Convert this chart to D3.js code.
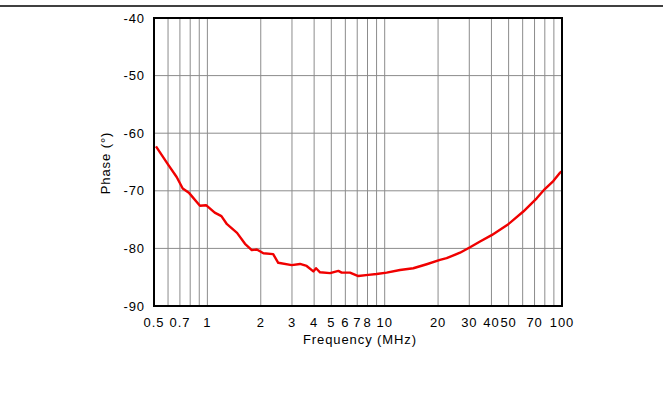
<!DOCTYPE html>
<html>
<head>
<script src='https://d3js.org/d3.v7.min.js'></script>

<style>
  body { margin: 0; background: #fff; }
  svg { display: block; }
  svg text {
    fill: black;
    font: 13px "Liberation Sans", Arial, sans-serif;
    letter-spacing: 0.9px;
  }
</style>
</head>
<body>
<script>
  // frequency in MHz, phase in degrees
  var freq = [0.513, 0.602, 0.671, 0.726, 0.79, 0.908, 0.983, 1.10, 1.2, 1.29, 1.47, 1.63, 1.78, 1.9,
    2.07, 2.35, 2.51, 2.99, 3.33, 3.63, 3.96, 4.1, 4.32, 4.92, 5.48, 5.72, 6.37, 7.1, 8.08, 9.0,
    10.26, 12.2, 14.5, 17.25, 20.5, 22.35, 26.6, 30.3, 34.5, 40.1, 49.8, 60.5, 72, 80, 89.3, 97.4, 100];
  var phase = [-62.3, -65.5, -67.6, -69.6, -70.4, -72.6, -72.5, -73.8, -74.4, -75.8, -77.3, -79.2, -80.3, -80.2,
    -80.85, -81.0, -82.5, -82.9, -82.7, -83.05, -84.0, -83.45, -84.15, -84.3, -83.9, -84.2, -84.2, -84.8, -84.6, -84.45,
    -84.2, -83.75, -83.45, -82.75, -82.0, -81.7, -80.75, -79.8, -78.8, -77.7, -75.8, -73.6, -71.3, -69.7, -68.3, -66.85, -66.6];

  var xTicks = [0.5, 0.7, 1, 2, 3, 4, 5, 6, 7, 8, 10, 20, 30, 40, 50, 70, 100];
  var xGrid = [0.6, 0.7, 0.8, 0.9, 1, 2, 3, 4, 5, 6, 7, 8, 9, 10, 20, 30, 40, 50, 60, 70, 80, 90];
  var yTicks = [-90, -80, -70, -60, -50, -40];

  var width = 663, height = 394;
  var plotL = 154, plotR = 562, plotT = 18, plotB = 306;

  var x = d3.scaleLog().domain([0.5, 100]).range([plotL, plotR]);
  var y = d3.scaleLinear().domain([-90, -40]).range([plotB, plotT]);

  var svg = d3.select("body").append("svg")
    .attr("width", width)
    .attr("height", height);

  // rule across the top of the page
  svg.append("line")
    .attr("x1", 0).attr("x2", width)
    .attr("y1", 6).attr("y2", 6)
    .attr("stroke", "black").attr("stroke-width", 1.5);

  // grid
  svg.selectAll(".vgrid").data(xGrid).enter().append("line")
    .attr("x1", function(d) { return x(d); })
    .attr("x2", function(d) { return x(d); })
    .attr("y1", plotT).attr("y2", plotB)
    .attr("stroke", "#8c8c8c").attr("stroke-width", 1);

  svg.selectAll(".hgrid").data(yTicks.slice(1, -1)).enter().append("line")
    .attr("x1", plotL).attr("x2", plotR)
    .attr("y1", function(d) { return y(d); })
    .attr("y2", function(d) { return y(d); })
    .attr("stroke", "#8c8c8c").attr("stroke-width", 1);

  // curve
  var line = d3.line()
    .x(function(d, i) { return x(freq[i]); })
    .y(function(d) { return y(d); });

  svg.append("path")
    .datum(phase)
    .attr("d", line)
    .attr("fill", "none")
    .attr("stroke", "#f00000")
    .attr("stroke-width", 2.4)
    .attr("stroke-linejoin", "round");

  // frame
  svg.append("rect")
    .attr("x", plotL).attr("y", plotT)
    .attr("width", plotR - plotL).attr("height", plotB - plotT)
    .attr("fill", "none")
    .attr("stroke", "black").attr("stroke-width", 2);

  // tick labels
  svg.selectAll(".ylab").data(yTicks).enter().append("text")
    .attr("x", plotL - 9)
    .attr("y", function(d) { return y(d); })
    .attr("dy", "0.36em")
    .attr("text-anchor", "end")
    .text(function(d) { return d; });

  svg.selectAll(".xlab").data(xTicks).enter().append("text")
    .attr("x", function(d) { return x(d); })
    .attr("y", plotB + 21)
    .attr("text-anchor", "middle")
    .text(function(d) { return d; });

  // axis titles
  svg.append("text")
    .attr("x", (plotL + plotR) / 2 + 2)
    .attr("y", plotB + 38)
    .attr("text-anchor", "middle")
    .text("Frequency (MHz)");

  svg.append("text")
    .attr("transform", "translate(110," + ((plotT + plotB) / 2 + 1) + ") rotate(-90)")
    .attr("text-anchor", "middle")
    .text("Phase (°)");
</script>
</body>
</html>
